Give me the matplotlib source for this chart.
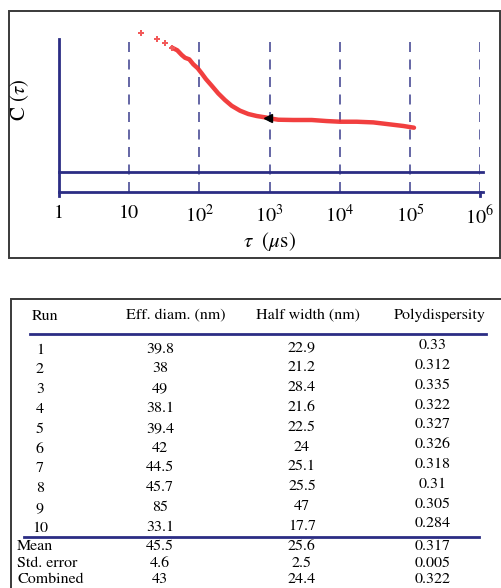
import matplotlib
matplotlib.use("Agg")
import matplotlib.pyplot as plt
from matplotlib.patches import Rectangle
from matplotlib.lines import Line2D

plt.rcParams["font.family"] = ["STIXGeneral", "DejaVu Serif"]
plt.rcParams["mathtext.fontset"] = "stix"

# Correlation function C(tau), tau in microseconds
tau_sparse = [14.7, 25.2, 32.4, 40.8]
c_sparse = [1.043, 1.000, 0.968, 0.935]

tau_dense = [40.8, 48.5, 56.1, 62.5, 71.9, 82.0, 94.8, 108, 124, 150, 186, 232,
             289, 380, 499, 657, 863, 1132, 1335, 2183, 3992, 6530, 10100,
             17500, 30100, 52100, 80700, 114600]
c_dense = [0.935, 0.915, 0.880, 0.859, 0.847, 0.810, 0.780, 0.742, 0.699, 0.649,
           0.591, 0.541, 0.498, 0.461, 0.436, 0.421, 0.411, 0.399, 0.393, 0.391,
           0.391, 0.383, 0.378, 0.378, 0.373, 0.358, 0.346, 0.333]

tau_marker = [961]
c_marker = [0.408]

decades = [1, 10, 1e2, 1e3, 1e4, 1e5, 1e6]
decade_labels = ["1", "10", "$10^2$", "$10^3$", "$10^4$", "$10^5$", "$10^6$"]

# Table contents
headers = ["Run", "Eff. diam. (nm)", "Half width (nm)", "Polydispersity"]
runs = ["1", "2", "3", "4", "5", "6", "7", "8", "9", "10"]
eff_diam = ["39.8", "38", "49", "38.1", "39.4", "42", "44.5", "45.7", "85", "33.1"]
half_width = ["22.9", "21.2", "28.4", "21.6", "22.5", "24", "25.1", "25.5", "47", "17.7"]
polydispersity = ["0.33", "0.312", "0.335", "0.322", "0.327", "0.326", "0.318",
                  "0.31", "0.305", "0.284"]
summary_names = ["Mean", "Std. error", "Combined"]
summary_diam = ["45.5", "4.6", "43"]
summary_width = ["25.6", "2.5", "24.4"]
summary_poly = ["0.317", "0.005", "0.322"]

W, H = 501, 588
NAVY = "#2b2d84"
RED = "#f02a2a"


def fx(px):
    return px / W


def fy(py):
    return 1 - py / H


fig = plt.figure(figsize=(W / 100, H / 100), dpi=100)

# Frame around the plot panel
fig.patches.append(Rectangle((fx(9), fy(258)), fx(500) - fx(9), fy(11) - fy(258),
                             transform=fig.transFigure, fill=False,
                             edgecolor="#3a3a3a", linewidth=1.4))

# Plot axes
ax_left, ax_right, ax_bottom, ax_top = 59, 480, 192, 28
ax = fig.add_axes([fx(ax_left), fy(ax_bottom), fx(ax_right) - fx(ax_left),
                   fy(ax_top) - fy(ax_bottom)])
ax.set_xscale("log")
ax.set_xlim(1, 1e6)
y_lo = -20 / 133
y_hi = (172 - ax_top) / 133
ax.set_ylim(y_lo, y_hi)
for s in ax.spines.values():
    s.set_visible(False)
ax.set_yticks([])
ax.set_xticks(decades)
ax.set_xticklabels(decade_labels, fontsize=14.5)
ax.tick_params(axis="x", length=0, pad=9)
ax.minorticks_off()

frac_top = (1.0 - y_lo) / (y_hi - y_lo)
for d in decades[1:]:
    ax.axvline(d, ymin=0, ymax=frac_top, color=NAVY, lw=1.2,
               dashes=(6, 4.5), alpha=0.85)
ax.axvline(1, ymin=-0.025, ymax=frac_top, color=NAVY, lw=2.0, clip_on=False)
ax.axvline(1e6, ymin=-0.025, ymax=0.0, color=NAVY, lw=2.0, clip_on=False)
ax.axhline(0, xmin=0, xmax=1.008, color=NAVY, lw=2.0, clip_on=False)
ax.axhline(y_lo, xmin=0, xmax=1.008, color=NAVY, lw=2.0, clip_on=False)

ax.plot(tau_dense, c_dense, color=RED, lw=3.2, solid_capstyle="round", alpha=0.9)
ax.plot(tau_sparse, c_sparse, linestyle="none", marker="P", markersize=4.2,
        color="#f25a5a", markeredgewidth=0, clip_on=False)
ax.plot(tau_marker, c_marker, linestyle="none", marker="<", markersize=6,
        color="black")

ax.set_xlabel(r"$\tau$  ($\mu$s)", fontsize=15, labelpad=2)
fig.text(fx(20), fy(100), r"C ($\tau$)", rotation=90, fontsize=15,
         ha="center", va="center")

# Frame around the table
fig.patches.append(Rectangle((fx(11), fy(600)), fx(520) - fx(11), fy(299) - fy(600),
                             transform=fig.transFigure, fill=False,
                             edgecolor="#3a3a3a", linewidth=1.4, clip_on=False))

TFS = 11.5
fig.text(fx(32), fy(316), headers[0], fontsize=TFS, ha="left", va="center")
fig.text(fx(176), fy(316), headers[1], fontsize=TFS, ha="center", va="center")
fig.text(fx(308), fy(316), headers[2], fontsize=TFS, ha="center", va="center")
fig.text(fx(440), fy(315), headers[3], fontsize=TFS, ha="center", va="center")

fig.lines.append(Line2D([fx(30), fx(486)], [fy(334), fy(334)],
                        transform=fig.transFigure, color=NAVY, lw=2.0))

row_step = 19.8
for i, r in enumerate(runs):
    y = 350 + i * row_step
    fig.text(fx(40), fy(y), r, fontsize=TFS, ha="center", va="center")
    fig.text(fx(160), fy(y - 1), eff_diam[i], fontsize=TFS, ha="center", va="center")
    fig.text(fx(302), fy(y - 2), half_width[i], fontsize=TFS, ha="center", va="center")
    fig.text(fx(433), fy(y - 4.5), polydispersity[i], fontsize=TFS, ha="center",
             va="center")

fig.lines.append(Line2D([fx(24), fx(479)], [fy(537), fy(537)],
                        transform=fig.transFigure, color=NAVY, lw=2.0))

summary_rows_y = [546, 563.5, 579.5]
for i, name in enumerate(summary_names):
    y = summary_rows_y[i]
    fig.text(fx(17), fy(y), name, fontsize=TFS, ha="left", va="center")
    fig.text(fx(160), fy(y), summary_diam[i], fontsize=TFS, ha="center", va="center")
    fig.text(fx(302), fy(y), summary_width[i], fontsize=TFS, ha="center", va="center")
    fig.text(fx(433), fy(y), summary_poly[i], fontsize=TFS, ha="center", va="center")

fig.savefig("out.png", dpi=100)
